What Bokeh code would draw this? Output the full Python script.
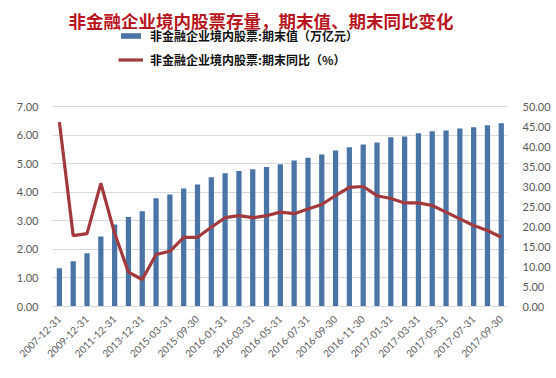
import math
from bokeh.plotting import figure
from bokeh.models import (Range1d, LinearAxis, FixedTicker, Legend, LegendItem,
                          Label, ColumnDataSource, NumeralTickFormatter)
from bokeh.embed import file_html
from bokeh.resources import INLINE

dates = ["2007-12-31", "2008-12-31", "2009-12-31", "2010-12-31", "2011-12-31",
         "2012-12-31", "2013-12-31", "2014-12-31", "2015-03-31", "2015-06-30",
         "2015-09-30", "2015-12-31", "2016-01-31", "2016-02-29", "2016-03-31",
         "2016-04-30", "2016-05-31", "2016-06-30", "2016-07-31", "2016-08-31",
         "2016-09-30", "2016-10-31", "2016-11-30", "2016-12-31", "2017-01-31",
         "2017-02-28", "2017-03-31", "2017-04-30", "2017-05-31", "2017-06-30",
         "2017-07-31", "2017-08-31", "2017-09-30"]
stock_value = [1.34, 1.58, 1.86, 2.45, 2.87, 3.13, 3.33, 3.79, 3.92, 4.13,
               4.27, 4.52, 4.66, 4.74, 4.80, 4.88, 4.98, 5.11, 5.21, 5.32,
               5.46, 5.57, 5.67, 5.74, 5.92, 5.95, 6.06, 6.13, 6.16, 6.23,
               6.27, 6.34, 6.41]
yoy_pct = [46.1, 17.7, 18.2, 30.8, 18.3, 8.6, 6.75, 13.0, 13.8, 17.3,
           17.3, 19.8, 22.2, 22.7, 22.2, 22.7, 23.6, 23.2, 24.4, 25.5,
           27.75, 29.8, 30.0, 27.7, 27.0, 25.9, 25.9, 25.25, 23.6, 21.9,
           20.25, 19.0, 17.3]
left_ticks = [0, 1, 2, 3, 4, 5, 6, 7]
right_ticks = [0, 5, 10, 15, 20, 25, 30, 35, 40, 45, 50]

title_text = "非金融企业境内股票存量，期末值、期末同比变化"
legend_bar = "非金融企业境内股票:期末值（万亿元）"
legend_line = "非金融企业境内股票:期末同比（%）"

cjk = "Noto Sans CJK SC"
num_font = "Lato"

# frame spans full top of the figure; axis scales chosen so 7.00 / 50.00 sit
# 106px below the top and 0 sits 306px below the top
FRAME_H = 306
PX_PER_UNIT = 200 / 7
left_top = FRAME_H / PX_PER_UNIT
right_top = FRAME_H / 4.0

idx = list(range(len(dates)))
src = ColumnDataSource(dict(x=idx, v=stock_value, y=yoy_pct))

p = figure(width=556, height=378, output_backend="svg", toolbar_location=None,
           x_range=Range1d(-0.5, 32.45), y_range=Range1d(0, left_top),
           min_border_left=52, min_border_right=49, min_border_bottom=72,
           min_border_top=0)
p.extra_y_ranges = {"pct": Range1d(0, right_top)}
p.outline_line_color = None
p.background_fill_color = "white"
p.border_fill_color = "white"

bars = p.vbar(x="x", top="v", width=0.38, source=src, fill_color="#4a74a6",
              line_color=None)
line = p.line(x="x", y="y", source=src, y_range_name="pct",
              line_color="#a23a3d", line_width=3.2)

# x axis
p.xaxis.ticker = FixedTicker(ticks=idx[::2])
p.xaxis.major_label_overrides = {i: dates[i] for i in idx}
p.xaxis.major_label_orientation = math.pi / 4
p.xaxis.major_label_text_font = num_font
p.xaxis.major_label_text_font_size = "10px"
p.xaxis.major_label_text_color = "#595959"
p.xaxis.major_tick_line_color = None
p.xaxis.minor_tick_line_color = None
p.xaxis.axis_line_color = "#d9d9d9"
p.xaxis.major_label_standoff = 5

# left axis
p.yaxis.ticker = FixedTicker(ticks=left_ticks)
p.yaxis.formatter = NumeralTickFormatter(format="0.00")
p.yaxis.axis_line_color = None
p.yaxis.major_tick_line_color = None
p.yaxis.minor_tick_line_color = None
p.yaxis.major_label_text_font = num_font
p.yaxis.major_label_text_font_size = "11px"
p.yaxis.major_label_text_color = "#595959"
p.yaxis.major_label_standoff = 8

# right axis
ra = LinearAxis(y_range_name="pct", ticker=FixedTicker(ticks=right_ticks),
                formatter=NumeralTickFormatter(format="0.00"))
ra.axis_line_color = None
ra.major_tick_line_color = None
ra.minor_tick_line_color = None
ra.major_label_text_font = num_font
ra.major_label_text_font_size = "11px"
ra.major_label_text_color = "#595959"
ra.major_label_standoff = 9
p.add_layout(ra, "right")

p.xgrid.grid_line_color = None
p.ygrid.grid_line_color = "#d9d9d9"
p.ygrid.ticker = FixedTicker(ticks=left_ticks[1:])

legend = Legend(items=[LegendItem(label=legend_bar, renderers=[bars]),
                       LegendItem(label=legend_line, renderers=[line])],
                orientation="vertical", location=(66, 238))
legend.border_line_color = None
legend.background_fill_alpha = 0
legend.label_text_font = cjk
legend.label_text_font_size = "12px"
legend.label_text_font_style = "bold"
legend.label_text_color = "#111111"
legend.glyph_width = 25
legend.glyph_height = 7
legend.label_height = 16
legend.label_standoff = 7
legend.spacing = 7
legend.padding = 2
legend.margin = 0
p.add_layout(legend, "center")

title = Label(x=14.6, y=left_top - 20 / PX_PER_UNIT,
              text=title_text, text_align="center", text_baseline="middle",
              text_font=cjk, text_font_size="17.5px", text_font_style="bold",
              text_color="#b81520")
p.add_layout(title)

open("out.html", "w").write(file_html(p, INLINE))
